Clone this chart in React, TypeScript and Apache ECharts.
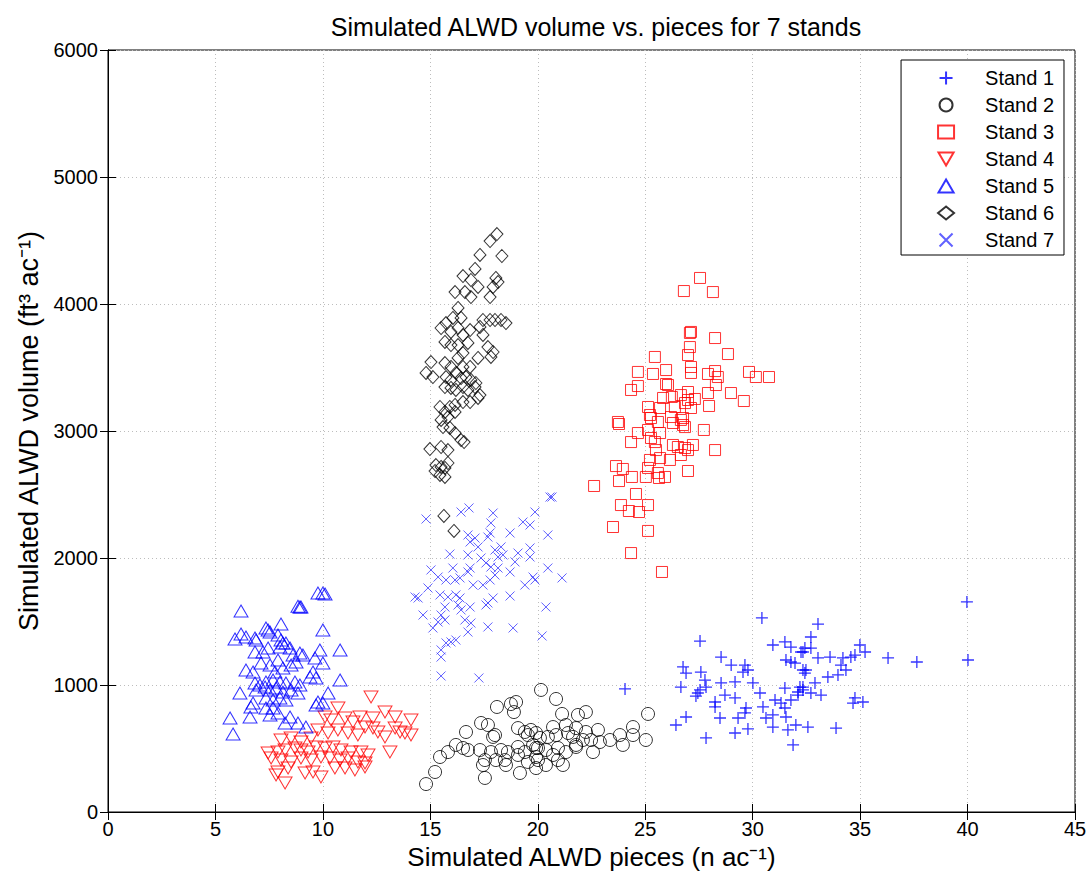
import React, { useEffect, useRef } from "react";
import * as echarts from "echarts";

const title = "Simulated ALWD volume vs. pieces for 7 stands";
const xName = "Simulated ALWD pieces (n ac\u207B\u00B9)";
const yName = "Simulated ALWD volume (ft\u00B3 ac\u207B\u00B9)";
const xTicks = [0, 5, 10, 15, 20, 25, 30, 35, 40, 45];
const yTicks = [0, 1000, 2000, 3000, 4000, 5000, 6000];
const standNames = ["Stand 1", "Stand 2", "Stand 3", "Stand 4", "Stand 5", "Stand 6", "Stand 7"];

const stand1: [number, number][] = [
  [24.06,969],[30.43,1528],[27.55,1346],[28.53,1220],[29.0,1157],[29.64,1157],[29.78,1118],[29.55,1102],[26.76,1142],[26.9,1094],
  [27.59,1102],[27.78,1039],[26.66,984],[27.55,961],[27.45,937],[27.83,984],[28.53,1016],[29.18,1024],[30.01,1016],[27.36,913],
  [28.25,866],[28.71,921],[29.18,898],[28.25,827],[26.9,748],[26.43,685],[27.83,583],[28.48,740],[29.18,622],[29.32,740],
  [29.64,780],[29.78,654],[29.69,819],[30.34,937],[30.48,827],[30.62,740],[30.94,764],[30.94,669],[31.04,882],[31.32,858],
  [31.5,819],[31.78,882],[31.55,748],[31.64,646],[31.88,528],[32.11,921],[32.01,685],[30.94,1315],[31.5,1339],[31.78,1299],
  [31.55,1197],[31.78,1181],[31.97,1173],[32.25,1260],[32.34,1118],[32.2,984],[32.34,961],[31.5,976],[32.43,1094],[39.97,1654],
  [40.02,1197],[37.64,1181],[36.3,1213],[34.99,1315],[35.23,1260],[34.76,1236],[34.57,1220],[33.04,1480],[32.71,1378],[32.43,1291],
  [32.71,1291],[32.34,1260],[33.04,1213],[33.6,1220],[34.2,1213],[34.11,1157],[34.34,1118],[33.97,1079],[33.5,1063],[32.48,1118],
  [32.9,1016],[32.34,984],[32.11,945],[32.71,937],[33.18,921],[34.76,898],[35.13,866],[34.67,858],[32.57,669],[33.88,661]
];

const stand2: [number, number][] = [
  [20.15,961],[18.1,827],[18.75,850],[18.99,866],[18.89,787],[16.66,630],[17.36,701],[17.68,685],[18.01,606],[17.92,591],
  [19.08,661],[19.4,630],[19.68,646],[19.54,606],[19.92,622],[15.45,433],[15.82,472],[16.19,528],[16.52,504],[16.75,488],
  [17.31,488],[17.82,472],[18.29,488],[18.61,472],[19.08,512],[19.4,472],[19.78,528],[20.01,504],[17.54,409],[18.05,409],
  [18.47,409],[19.08,449],[19.54,394],[19.92,433],[17.45,370],[18.52,370],[15.22,315],[14.8,220],[17.54,268],[19.17,307],
  [19.92,346],[20.85,890],[21.13,772],[21.87,764],[22.24,787],[25.13,772],[24.43,669],[23.82,606],[24.43,606],[25.03,567],
  [23.96,528],[23.36,567],[20.71,669],[21.31,685],[21.78,661],[22.24,630],[22.8,646],[22.48,567],[22.57,472],[22.89,551],
  [20.1,583],[20.47,591],[20.85,606],[21.41,622],[21.64,591],[22.1,567],[21.78,528],[19.92,504],[20.38,488],[20.94,504],
  [21.31,472],[21.78,512],[20.71,449],[20.01,409],[20.38,370],[20.94,409],[21.17,370]
];

const stand3: [number, number][] = [
  [27.55,4205],[26.8,4102],[28.15,4094],[27.08,3772],[27.13,3780],[28.25,3732],[27.08,3661],[26.99,3598],[28.85,3606],[25.45,3583],
  [24.66,3465],[25.36,3449],[25.97,3480],[27.13,3504],[27.13,3457],[27.92,3449],[28.25,3472],[28.38,3425],[29.83,3465],[30.15,3425],
  [30.76,3425],[24.34,3323],[24.66,3354],[25.97,3370],[26.06,3362],[28.29,3362],[27.92,3299],[28.99,3299],[29.59,3236],[25.83,3260],
  [26.24,3268],[26.66,3283],[26.99,3307],[26.99,3244],[27.31,3252],[27.97,3197],[25.13,3189],[25.69,3181],[26.38,3189],[26.85,3220],
  [27.13,3181],[23.73,3071],[25.22,3126],[26.2,3110],[26.76,3102],[23.78,3055],[25.27,3102],[25.59,3071],[25.13,3008],[26.29,3063],
  [26.76,3047],[26.66,3087],[26.85,3031],[27.73,3008],[24.66,2984],[24.34,2913],[25.27,2945],[25.69,2984],[25.45,2913],[26.29,2890],
  [26.52,2874],[26.85,2866],[27.22,2890],[26.99,2850],[28.25,2850],[25.5,2850],[25.69,2787],[25.22,2772],[26.15,2772],[26.66,2811],
  [23.64,2724],[23.96,2701],[25.13,2709],[25.59,2669],[26.99,2685],[23.78,2606],[24.38,2638],[25.03,2638],[25.64,2630],[25.92,2638],
  [22.62,2567],[24.57,2504],[23.87,2417],[24.24,2370],[24.71,2362],[25.13,2417],[23.5,2244],[25.13,2213],[24.34,2039],[25.78,1890]
];

const stand4: [number, number][] = [
  [12.24,906],[10.7,819],[12.89,787],[13.36,748],[14.1,724],[10.1,748],[10.38,724],[11.03,740],[11.4,709],[11.73,748],
  [12.33,740],[13.36,661],[13.59,630],[13.82,622],[14.1,606],[11.96,669],[12.33,661],[12.56,630],[12.89,591],[9.77,646],
  [10.24,622],[10.7,646],[11.17,622],[11.63,606],[8.05,567],[8.52,583],[8.98,551],[9.45,583],[7.45,465],[7.91,472],
  [8.24,488],[8.7,504],[8.98,488],[9.31,472],[9.68,512],[10.1,504],[10.47,512],[10.84,488],[11.31,472],[11.77,472],
  [12.1,449],[13.12,472],[7.59,425],[8.05,409],[8.52,394],[8.98,425],[9.45,409],[9.91,433],[10.33,425],[10.8,409],
  [11.17,425],[11.63,394],[11.96,386],[7.91,315],[8.38,346],[9.17,307],[9.54,315],[9.91,276],[10.56,346],[11.03,346],
  [11.49,331],[11.96,354],[8.24,228],[7.82,291]
];

const stand5: [number, number][] = [
  [9.77,1724],[10.0,1724],[10.1,1717],[6.19,1583],[8.84,1620],[8.93,1614],[8.98,1614],[8.05,1480],[10.0,1433],[5.91,1362],
  [6.19,1402],[6.42,1378],[6.84,1370],[6.89,1354],[7.35,1449],[7.45,1433],[7.54,1417],[7.91,1394],[8.05,1354],[8.14,1331],
  [8.28,1331],[8.0,1299],[8.47,1291],[6.84,1260],[7.21,1260],[7.45,1291],[10.8,1276],[9.86,1276],[9.63,1213],[10.0,1173],
  [8.93,1252],[9.07,1236],[8.61,1236],[8.75,1181],[8.52,1157],[7.12,1173],[7.54,1157],[7.91,1197],[8.14,1134],[7.77,1102],
  [6.42,1118],[6.75,1102],[9.54,1102],[9.4,1063],[9.68,1055],[10.8,1039],[6.84,1016],[7.07,1000],[7.35,1024],[7.68,1039],
  [8.0,1024],[8.28,1016],[8.7,1024],[8.93,1000],[6.14,937],[6.89,961],[7.31,984],[7.54,961],[7.82,976],[8.14,945],
  [8.52,961],[8.84,937],[7.35,898],[7.68,882],[8.0,898],[8.28,882],[10.24,937],[9.77,866],[10.0,858],[9.68,843],
  [6.65,827],[6.75,858],[7.35,819],[7.68,819],[7.91,780],[7.54,764],[6.61,748],[8.47,748],[5.68,740],[5.82,614],
  [9.21,669],[8.84,701],[8.24,701]
];

const stand6: [number, number][] = [
  [18.1,4551],[17.78,4496],[18.33,4378],[17.31,4386],[17.08,4276],[16.52,4220],[16.89,4189],[17.22,4134],[18.05,4205],[18.15,4173],
  [17.92,4134],[17.78,4055],[16.15,4094],[16.61,4094],[16.89,4055],[16.29,3969],[16.05,3890],[16.43,3890],[17.45,3874],[17.78,3874],
  [18.01,3874],[18.29,3874],[18.52,3850],[17.31,3819],[17.45,3756],[17.68,3661],[17.92,3622],[17.82,3583],[15.5,3811],[15.73,3850],
  [15.96,3780],[16.29,3811],[16.52,3756],[16.85,3795],[15.68,3701],[15.96,3677],[16.29,3677],[16.75,3693],[16.52,3614],[16.29,3575],
  [15.03,3543],[14.8,3457],[15.12,3425],[15.68,3535],[15.96,3504],[16.19,3457],[16.52,3504],[16.85,3504],[17.22,3575],[15.73,3425],
  [15.96,3402],[16.43,3417],[16.66,3425],[16.89,3402],[17.12,3378],[15.68,3346],[15.96,3339],[16.19,3323],[16.52,3346],[16.75,3323],
  [17.08,3346],[17.31,3283],[15.45,3189],[15.68,3150],[15.91,3189],[16.15,3205],[16.52,3228],[16.85,3228],[17.22,3260],[15.5,3087],
  [15.82,3110],[16.15,3150],[15.59,3031],[15.91,3024],[16.15,2984],[16.43,2929],[16.57,2913],[14.98,2858],[15.5,2874],[15.82,2850],
  [15.26,2732],[15.5,2717],[15.68,2709],[15.22,2685],[15.45,2654],[15.68,2638],[15.82,2748],[15.63,2331],[16.1,2213]
];

const stand7: [number, number][] = [
  [20.57,2480],[20.66,2480],[14.8,2307],[16.43,2362],[16.8,2394],[17.92,2354],[17.82,2276],[17.78,2197],[17.68,2165],[19.87,2362],
  [19.31,2283],[19.64,2260],[20.47,2181],[18.71,2197],[16.75,2181],[17.08,2157],[17.22,2087],[16.85,2126],[15.91,2031],[16.75,2024],
  [17.36,2000],[18.01,2063],[18.29,2087],[18.38,2024],[18.15,2008],[19.08,2039],[19.64,2079],[19.64,2008],[18.94,1969],[20.47,1921],
  [21.13,1843],[17.59,1961],[17.82,1929],[18.15,1921],[18.71,1890],[18.01,1866],[19.78,1850],[19.87,1827],[19.4,1787],[15.03,1906],
  [15.36,1850],[16.05,1921],[16.38,1843],[16.75,1890],[16.85,1921],[15.73,1827],[16.15,1827],[16.99,1787],[17.45,1787],[17.78,1827],
  [14.89,1764],[14.29,1693],[14.43,1685],[15.45,1709],[15.82,1693],[16.19,1709],[16.38,1685],[16.85,1614],[17.59,1630],[17.92,1685],
  [17.68,1646],[18.71,1701],[20.38,1614],[15.68,1614],[16.29,1630],[16.43,1591],[14.66,1551],[15.5,1551],[15.68,1512],[16.61,1512],
  [16.89,1488],[16.75,1417],[15.12,1449],[15.36,1496],[17.68,1457],[18.85,1449],[20.2,1386],[15.73,1331],[15.96,1339],[16.19,1354],
  [15.5,1276],[15.5,1220],[15.5,1071],[17.26,1055]
];

const plusPath = "path://M0,5L10,5M5,0L5,10";
const crossPath = "path://M0,0L10,10M0,10L10,0";
const downTriPath = "path://M0,0L10,0L5,8.6Z";
const upTriPath = "path://M5,0L10,8.6L0,8.6Z";

export default function App() {
  const ref = useRef<HTMLDivElement>(null);
  useEffect(() => {
    document.body.style.margin = "0";
    const chart = echarts.init(ref.current!, null, { renderer: "svg" });
    const font = "Liberation Sans";
    const open = (c: string, w = 1) => ({ color: "transparent", borderColor: c, borderWidth: w });
    const series: any[] = [
      { name: standNames[0], data: stand1, symbol: plusPath, symbolSize: 12, itemStyle: open("#0000ff", 1.3) },
      { name: standNames[1], data: stand2, symbol: "circle", symbolSize: 13, itemStyle: open("#000000") },
      { name: standNames[2], data: stand3, symbol: "rect", symbolSize: 11, itemStyle: open("#ff0000") },
      { name: standNames[3], data: stand4, symbol: downTriPath, symbolSize: [14, 12], itemStyle: open("#ff0000") },
      { name: standNames[4], data: stand5, symbol: upTriPath, symbolSize: [14, 12], itemStyle: open("#0000ff") },
      { name: standNames[5], data: stand6, symbol: "diamond", symbolSize: [12, 13], itemStyle: open("#000000") },
      { name: standNames[6], data: stand7, symbol: crossPath, symbolSize: 9, itemStyle: open("#3a3aff", 1) },
    ].map((s) => ({ ...s, type: "scatter", xAxisIndex: 0, yAxisIndex: 0, emphasis: { disabled: true } }));

    const tick = { show: true, inside: true, length: 8, lineStyle: { color: "#000" } };
    const grid = { show: true, lineStyle: { color: "#bdbdbd", type: [1, 3] } };

    chart.setOption({
      animation: false,
      backgroundColor: "#ffffff",
      textStyle: { fontFamily: font },
      title: {
        text: title,
        left: 591,
        textAlign: "center",
        top: 9,
        textStyle: { fontFamily: font, fontSize: 25, fontWeight: "normal", color: "#000" },
      },
      grid: { left: 108, right: 15, top: 50, bottom: 72, show: true, borderColor: "#000", borderWidth: 1, backgroundColor: "transparent" },
      legend: {
        orient: "vertical",
        right: 26,
        top: 60,
        padding: [8, 10, 5, 36],
        itemGap: 7,
        itemWidth: 16,
        itemHeight: 13,
        backgroundColor: "#fff",
        borderColor: "#000",
        borderWidth: 1,
        textStyle: { fontFamily: font, fontSize: 20, color: "#000", padding: [0, 0, 0, 26] },
        data: standNames,
      },
      xAxis: [
        {
          type: "value",
          min: xTicks[0],
          max: xTicks[xTicks.length - 1],
          interval: 5,
          name: xName,
          nameLocation: "middle",
          nameGap: 15,
          nameTextStyle: { fontFamily: font, fontSize: 26, color: "#000" },
          axisLine: { show: true, lineStyle: { color: "#000" } },
          axisTick: tick,
          axisLabel: { fontFamily: font, fontSize: 20, color: "#000", margin: 7 },
          splitLine: grid,
        },
        {
          type: "value",
          position: "top",
          min: xTicks[0],
          max: xTicks[xTicks.length - 1],
          interval: 5,
          axisLine: { show: true, lineStyle: { color: "#000" } },
          axisTick: tick,
          axisLabel: { show: false },
          splitLine: { show: false },
        },
      ],
      yAxis: [
        {
          type: "value",
          min: yTicks[0],
          max: yTicks[yTicks.length - 1],
          interval: 1000,
          name: yName,
          nameLocation: "middle",
          nameGap: 60,
          nameTextStyle: { fontFamily: font, fontSize: 27, color: "#000" },
          axisLine: { show: true, lineStyle: { color: "#000" } },
          axisTick: tick,
          axisLabel: { fontFamily: font, fontSize: 20, color: "#000", margin: 10, formatter: (v: number) => String(v) },
          splitLine: grid,
        },
        {
          type: "value",
          position: "right",
          min: yTicks[0],
          max: yTicks[yTicks.length - 1],
          interval: 1000,
          axisLine: { show: true, lineStyle: { color: "#000" } },
          axisTick: tick,
          axisLabel: { show: false },
          splitLine: { show: false },
        },
      ],
      series,
    });
    return () => chart.dispose();
  }, []);
  return <div ref={ref} style={{ width: 1090, height: 884 }} />;
}
